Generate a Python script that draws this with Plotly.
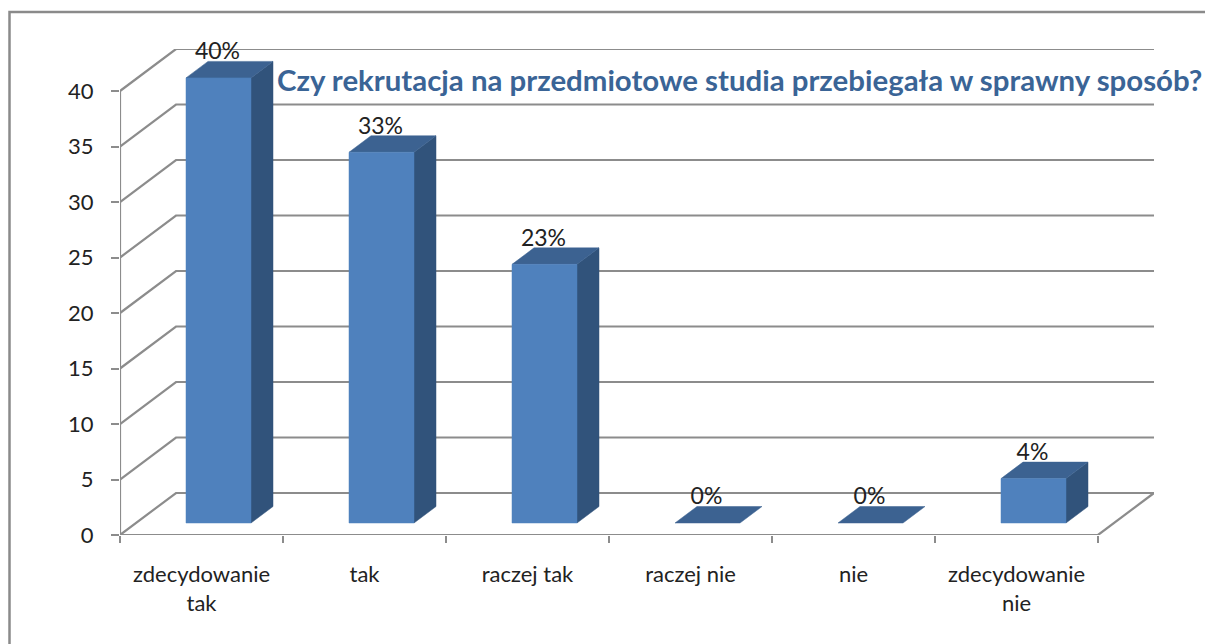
import plotly.graph_objects as go

categories = ["zdecydowanie<br>tak", "tak", "raczej tak", "raczej nie", "nie", "zdecydowanie<br>nie"]
values = [40.1, 33.4, 23.3, 0, 0, 4.0]
labels = ["40%", "33%", "23%", "0%", "0%", "4%"]
y_ticks = [0, 5, 10, 15, 20, 25, 30, 35, 40]
title = "Czy rekrutacja na przedmiotowe studia przebiegała w sprawny sposób?"

W, H = 1205, 644
L, R, T, B = 120, 1154, 49, 535
PX_X = 163.0
PX_Y = 11.1

def dx(px): return px / PX_X
def dy(px): return px / PX_Y

GRID = "#8c8c8c"
FRONT = "#4f81bd"
SIDE = "#31537b"
TOP = "#3c6291"
FONT = "Lato"
n = len(categories)
wall_dx, wall_dy = dx(56), dy(42)

fig = go.Figure()

def line(xs, ys, w=2.2):
    fig.add_trace(go.Scatter(x=xs, y=ys, mode="lines", line=dict(color=GRID, width=w),
                             hoverinfo="skip", showlegend=False, cliponaxis=False))

def poly(xs, ys, color):
    fig.add_trace(go.Scatter(x=xs + xs[:1], y=ys + ys[:1], mode="lines", fill="toself", fillcolor=color,
                             line=dict(color=color, width=0.5), hoverinfo="skip", showlegend=False))

# walls
for t in y_ticks:
    line([0, wall_dx, n + wall_dx], [t, t + wall_dy, t + wall_dy])
line([n, n + wall_dx], [0, wall_dy])
# front axes
line([0, 0], [0, max(y_ticks)])
line([0, n], [0, 0])

# bars
side_dx, side_dy = dx(22), dy(16.5)
base = dy(12)
bw = dx(65)
off = dx(66)
for i, v in enumerate(values):
    x0 = i + off
    x1 = x0 + bw
    y0 = base
    y1 = base + v
    if v > 0:
        poly([x1, x1 + side_dx, x1 + side_dx, x1], [y0, y0 + side_dy, y1 + side_dy, y1], SIDE)
    poly([x0, x0 + side_dx, x1 + side_dx, x1], [y1, y1 + side_dy, y1 + side_dy, y1], TOP)
    if v > 0:
        poly([x0, x1, x1, x0], [y0, y0, y1, y1], FRONT)

fig.add_trace(go.Scatter(
    x=[i + off + bw / 2 - dx(1) for i in range(n)],
    y=[base + v + side_dy + dy(8) for v in values],
    mode="text", text=labels, textposition="middle center", cliponaxis=False,
    textfont=dict(family=FONT, size=23, color="#222222"),
    hoverinfo="skip", showlegend=False))

fig.update_layout(
    width=W, height=H, margin=dict(l=L, r=W - R, t=T, b=H - B),
    paper_bgcolor="white", plot_bgcolor="white", showlegend=False,
    font=dict(family=FONT, color="#222222"),
    xaxis=dict(range=[0, (R - L) / PX_X], showgrid=False, zeroline=False, showline=False,
               tickmode="array", tickvals=[i + 0.5 for i in range(n)],
               ticktext=categories, ticks="", tickfont=dict(size=22),
               ticklabelstandoff=24,
               minor=dict(tickmode="array", tickvals=list(range(n + 1)), ticks="outside", ticklen=7,
                          tickwidth=2, tickcolor=GRID, showgrid=False)),
    yaxis=dict(range=[0, (B - T) / PX_Y], showgrid=False, zeroline=False, showline=False,
               tickmode="array", tickvals=y_ticks, ticks="outside", ticklen=8, tickwidth=2,
               tickcolor=GRID, tickfont=dict(size=22), ticklabelstandoff=13),
    shapes=[dict(type="rect", xref="paper", yref="paper", layer="below",
                 x0=(9.5 - L) / (R - L), x1=(W + 20 - L) / (R - L),
                 y0=(B - H - 20) / (B - T), y1=(B - 12) / (B - T),
                 line=dict(color="#8a8a8a", width=2.5))],
    annotations=[dict(text="<b>" + title + "</b>", xref="paper", yref="paper",
                      x=(275 - L) / (R - L), y=(B - 79) / (B - T), xanchor="left", yanchor="middle",
                      showarrow=False, font=dict(family=FONT, size=29.4, color="#3a6496"))],
)

fig.write_html("out.html", config={"displayModeBar": False},
               post_script="document.body.style.margin='0';")
